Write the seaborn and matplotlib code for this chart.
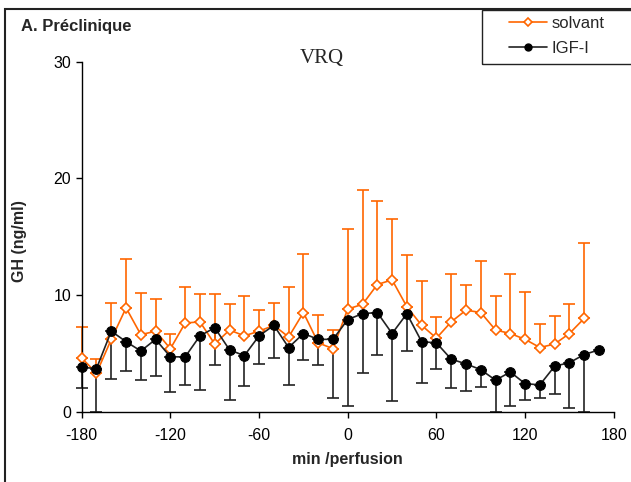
import numpy as np
import pandas as pd
import matplotlib
matplotlib.use("Agg")
import matplotlib.pyplot as plt
from matplotlib.lines import Line2D
from matplotlib.patches import Rectangle
import seaborn as sns

sns.set_style("ticks")
plt.rcParams["font.family"] = ["Liberation Sans", "DejaVu Sans"]
plt.rcParams["axes.unicode_minus"] = False

## Data
minutes = [-180, -170, -160, -150, -140, -130, -120, -110, -100, -90,
           -80, -70, -60, -50, -40, -30, -20, -10, 0, 10,
           20, 30, 40, 50, 60, 70, 80, 90, 100, 110,
           120, 130, 140, 150, 160, 170]
solvant = [4.6, 3.3, 6.2, 8.9, 6.6, 6.9, 5.4, 7.6, 7.7, 5.8,
           7.0, 6.5, 6.9, 7.4, 6.4, 8.5, 5.9, 5.4, 8.8, 9.2,
           10.9, 11.3, 9.0, 7.4, 6.3, 7.7, 8.7, 8.5, 7.0, 6.7,
           6.2, 5.5, 5.8, 6.7, 8.0, np.nan]
solvant_err = [2.7, 1.2, 3.1, 4.2, 3.6, 2.8, 1.3, 3.1, 2.4, 4.3,
               2.2, 3.4, 1.8, 1.9, 4.3, 5.0, 2.4, 1.6, 6.9, 9.8,
               7.2, 5.2, 4.4, 3.8, 1.8, 4.1, 2.2, 4.4, 2.9, 5.1,
               4.1, 2.0, 2.4, 2.5, 6.5, np.nan]
igf = [3.8, 3.7, 6.9, 6.0, 5.2, 6.2, 4.7, 4.7, 6.5, 7.2,
       5.3, 4.8, 6.5, 7.4, 5.5, 6.7, 6.2, 6.2, 7.9, 8.4,
       8.5, 6.7, 8.4, 6.0, 5.9, 4.5, 4.1, 3.6, 2.7, 3.4,
       2.4, 2.3, 3.9, 4.2, 4.9, 5.3]
igf_err = [1.8, 4.5, 4.1, 2.5, 2.5, 3.1, 3.0, 2.4, 4.6, 3.2,
           4.3, 2.6, 2.4, 2.8, 3.2, 2.3, 2.2, 5.0, 7.4, 5.1,
           3.6, 5.8, 3.2, 3.5, 2.2, 2.5, 2.3, 1.5, 3.5, 2.9,
           1.4, 1.1, 2.4, 3.9, 5.5, np.nan]

df = pd.DataFrame({"min": minutes, "solvant": solvant, "solvant_err": solvant_err,
                   "igf": igf, "igf_err": igf_err})
# bars that run below the axis stop at 0 (their cap then sits on the axis line)
df["igf_low"] = np.minimum(df["igf_err"], df["igf"])

orange = "#FF6600"
dark = "#222222"

fig = plt.figure(figsize=(6.31, 4.82), dpi=100)
ax = fig.add_axes([0.1295, 0.1459, 0.8432, 0.7261])

## Error bars: solvant upward only, IGF-I downward only
zero = np.zeros(len(df))
eb1 = ax.errorbar(df["min"], df["igf"], yerr=[df["igf_low"], zero], fmt="none",
                  ecolor=dark, elinewidth=1.2, capsize=4, capthick=1.2, zorder=2)
eb2 = ax.errorbar(df["min"], df["solvant"], yerr=[zero, df["solvant_err"]], fmt="none",
                  ecolor=orange, elinewidth=1.2, capsize=4, capthick=1.2, zorder=2)
for eb in (eb1, eb2):
    for art in eb.lines[1] + eb.lines[2]:
        art.set_clip_on(False)

sns.lineplot(data=df, x="min", y="solvant", ax=ax, color=orange, lw=1.2,
             marker="D", markersize=5.5, markerfacecolor="white",
             markeredgecolor=orange, markeredgewidth=1.2, zorder=3, clip_on=False)
sns.lineplot(data=df, x="min", y="igf", ax=ax, color=dark, lw=1.2,
             marker="o", markersize=7, markerfacecolor="black",
             markeredgecolor="black", zorder=4, clip_on=False)

ax.set_xlim(-180, 180)
ax.set_ylim(0, 30)
ax.set_xticks([-180, -120, -60, 0, 60, 120, 180])
ax.set_yticks([0, 10, 20, 30])
ax.tick_params(axis="both", labelsize=11.5, length=4, width=1, color="black",
               labelcolor="black")
ax.tick_params(axis="x", pad=8)
for s in ["left", "bottom"]:
    ax.spines[s].set_color("black")
    ax.spines[s].set_linewidth(1)
sns.despine(ax=ax)

ax.set_xlabel("min /perfusion", fontsize=11.5, fontweight="bold", labelpad=6)
ax.set_ylabel("")
fig.text(20 / 631, 1 - 241 / 482, "GH (ng/ml)", rotation=90, ha="center",
         va="center", fontsize=11.5, fontweight="bold")

fig.text(21 / 631, 1 - 27 / 482, "A. Préclinique", ha="left", va="center",
         fontsize=12, fontweight="bold")
fig.text(322 / 631, 1 - 59 / 482, "VRQ", ha="center", va="center",
         fontsize=15, family=["Liberation Serif", "DejaVu Serif"])

## Figure border and legend box
fig.patches.append(Rectangle((5.3 / 631, -0.05), 1.1, 1 - 9.3 / 482 + 0.05,
                             transform=fig.transFigure, fill=False,
                             edgecolor="#222222", lw=1.5, clip_on=False))
fig.patches.append(Rectangle((481.7 / 631, 1 - 64 / 482), 0.3, 54 / 482,
                             transform=fig.transFigure, fill=False,
                             edgecolor="#222222", lw=1.0, clip_on=False))

handles = [Line2D([], [], color=orange, lw=1.2, marker="D", markersize=4.5,
                  markerfacecolor="white", markeredgecolor=orange, markeredgewidth=1.2),
           Line2D([], [], color=dark, lw=1.2, marker="o", markersize=5,
                  markerfacecolor="black", markeredgecolor="black")]
fig.legend(handles, ["solvant", "IGF-I"], loc="upper left",
           bbox_to_anchor=(509 / 631, 1 - 16 / 482), frameon=False,
           fontsize=12, handlelength=2.3, handletextpad=0.25,
           labelspacing=0.6, borderpad=0, borderaxespad=0)

fig.savefig("out.png", dpi=100)
